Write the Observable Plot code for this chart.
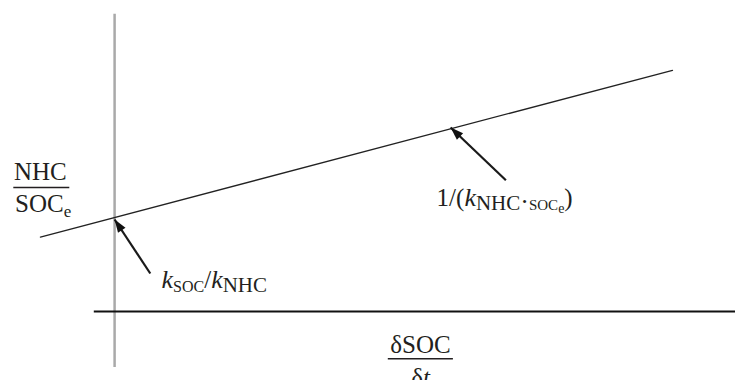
<!DOCTYPE html>
<html><head><meta charset="utf-8">
<script src="https://cdn.jsdelivr.net/npm/d3@7"></script>
<script src="https://cdn.jsdelivr.net/npm/@observablehq/plot@0.6"></script>
<style>body{margin:0;background:#fff;}</style>
</head><body><div id="chart"></div>
<script>
// Schematic: NHC/SOCe plotted against dSOC/dt (data units of the sketch)
const horizAxisX = [-0.29, 8.87];      // extent of the horizontal axis (at y = 0)
const vertAxisY = [-1.4, 7.43];        // extent of the vertical axis (at x = 0)
const lineX = [-1.06, 7.97];           // regression line end points
const lineY = [1.86, 6.03];
const arrowTailX = [0.51, 5.59];
const arrowTailY = [0.95, 3.28];
const arrowHeadX = [0.0, 4.8];
const arrowHeadY = [2.3, 4.6];
const labelText = ["kSOC/kNHC", "1/(kNHC·SOCe)", "NHC", "SOCe", "δSOC", "δt"];
const labelX = [0.67, 4.6, -1.06, -1.02, 4.37, 4.37];
const labelY = [0.58, 2.65, 3.3, 2.5, -1.03, -1.85];
const labelAnchor = ["start", "start", "middle", "middle", "middle", "middle"];
const fracBarX1 = [-1.44, 3.91];
const fracBarX2 = [-0.64, 4.84];
const fracBarY = [3.1, -1.18];

const W = 735, H = 380;
const xDomain = [-1.63, 8.87], yDomain = [-1.725, 7.775];
const INK = "#231f20";
const FONT = "Liberation Serif, Times New Roman, serif";

const sx = Plot.scale({x: {domain: xDomain, range: [0, W]}});
const sy = Plot.scale({y: {domain: yDomain, range: [H, 0]}});

const lineData = lineX.map((x, i) => ({x, y: lineY[i]}));
const arrows = arrowTailX.map((x, i) => {
  const hx = arrowHeadX[i], hy = arrowHeadY[i], ty = arrowTailY[i];
  const dx = sx.apply(hx) - sx.apply(x), dy = sy.apply(hy) - sy.apply(ty);
  return {x1: x, y1: ty, x2: hx, y2: hy, angle: Math.atan2(dx, -dy) * 180 / Math.PI};
});
const labels = labelText.map((t, i) => ({t, x: labelX[i], y: labelY[i], a: labelAnchor[i]}));
const bars = fracBarY.map((y, i) => ({y, x1: fracBarX1[i], x2: fracBarX2[i]}));

// slender arrowhead with its tip at the origin, pointing up
const headSymbol = {draw(ctx) { ctx.moveTo(0, 0); ctx.lineTo(-4.5, 13); ctx.lineTo(4.5, 13); ctx.closePath(); }};

const plot = Plot.plot({
  width: W, height: H, margin: 0,
  x: {domain: xDomain, axis: null},
  y: {domain: yDomain, axis: null},
  style: {fontFamily: FONT, background: "#fff", overflow: "visible"},
  marks: [
    Plot.ruleX([0], {y1: vertAxisY[0], y2: vertAxisY[1], stroke: "#a9a9a9", strokeWidth: 2.5}),
    Plot.ruleY([0], {x1: horizAxisX[0], x2: horizAxisX[1], stroke: "#111", strokeWidth: 2}),
    Plot.line(lineData, {x: "x", y: "y", stroke: "#222", strokeWidth: 1.3}),
    Plot.link(arrows, {x1: "x1", y1: "y1", x2: "x2", y2: "y2", stroke: "#1a1a1a", strokeWidth: 2.2}),
    Plot.dot(arrows, {x: "x2", y: "y2", symbol: headSymbol, rotate: "angle", fill: "#111", stroke: "none", r: 5}),
    Plot.ruleY(bars, {y: "y", x1: "x1", x2: "x2", stroke: INK, strokeWidth: 1.6}),
    ...["start", "middle"].map(a => Plot.text(labels.filter(d => d.a === a), {
      x: "x", y: "y", text: "t", textAnchor: a, lineAnchor: "bottom",
      fontSize: 25, fill: INK, fontFamily: FONT
    }))
  ]
});

// typographic markup for sub-scripts and italics
const markup = {
  "kSOC/kNHC": [{t: "k", i: 1, s: 26}, {t: "SOC", s: 16, sh: 4}, {t: "/", sh: 0}, {t: "k", i: 1, s: 26}, {t: "NHC", s: 21, sh: 4}],
  "1/(kNHC·SOCe)": [{t: "1/("}, {t: "k", i: 1, s: 26}, {t: "NHC", s: 21, sh: 4}, {t: "·", s: 26, sh: 4}, {t: "SOC", s: 15, sh: 4}, {t: "e", s: 14, sh: 7}, {t: ")", sh: 0}],
  "SOCe": [{t: "SOC"}, {t: "e", s: 17, sh: 5}],
  "δt": [{t: "δ"}, {t: "t", i: 1}]
};
const NS = "http://www.w3.org/2000/svg";
plot.querySelectorAll("text").forEach(el => {
  const segs = markup[el.textContent];
  if (!segs) return;
  while (el.firstChild) el.removeChild(el.firstChild);
  let prev = 0;
  segs.forEach(seg => {
    const ts = document.createElementNS(NS, "tspan");
    ts.textContent = seg.t;
    const sh = seg.sh || 0;
    if (sh !== prev) ts.setAttribute("dy", sh - prev);
    prev = sh;
    if (seg.s) ts.setAttribute("font-size", seg.s);
    if (seg.i) ts.setAttribute("font-style", "italic");
    el.appendChild(ts);
  });
});

document.getElementById("chart").appendChild(plot);
</script>
</body></html>
